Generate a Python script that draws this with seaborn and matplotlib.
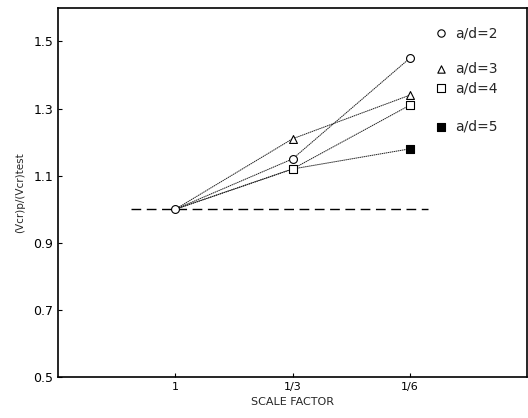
import matplotlib
matplotlib.use("Agg")
import matplotlib.pyplot as plt
import seaborn as sns
import pandas as pd

# data
scale_labels = ["1", "1/3", "1/6"]
series_names = ["a/d=2", "a/d=3", "a/d=4", "a/d=5"]
ad2 = [1.00, 1.15, 1.45]
ad3 = [1.00, 1.21, 1.34]
ad4 = [1.00, 1.12, 1.31]
ad5 = [1.00, 1.12, 1.18]
y_ticks = [0.5, 0.7, 0.9, 1.1, 1.3, 1.5]
ref_value = 1.0

values = [ad2, ad3, ad4, ad5]
rows = []
for name, vals in zip(series_names, values):
    for i, (lab, v) in enumerate(zip(scale_labels, vals)):
        rows.append({"series": name, "pos": i + 1, "scale": lab, "value": v})
df = pd.DataFrame(rows)

sns.set_style("ticks")
plt.rcParams["font.family"] = ["DejaVu Sans"]

fig = plt.figure(figsize=(5.28, 4.18), dpi=100)
ax = fig.add_axes([0.110, 0.098, 0.888, 0.883])

sns.lineplot(data=df, x="pos", y="value", units="series", estimator=None,
             color="#222222", lw=0.7, linestyle=(0, (1.5, 0.6)), ax=ax, legend=False)

# which markers are visible
show = {"a/d=2": [1, 2, 3], "a/d=3": [2, 3], "a/d=4": [2, 3], "a/d=5": [3]}
mk = {"a/d=2": "o", "a/d=3": "^", "a/d=4": "s", "a/d=5": "s"}
fc = {"a/d=2": "white", "a/d=3": "white", "a/d=4": "white", "a/d=5": "black"}
for name in series_names:
    sub = df[(df.series == name) & (df.pos.isin(show[name]))]
    sns.scatterplot(data=sub, x="pos", y="value", marker=mk[name], s=32,
                    facecolor=fc[name], edgecolor="black", linewidth=0.8,
                    ax=ax, zorder=5, legend=False)

# reference dashed line
ax.plot([0.62, 3.16], [ref_value, ref_value], color="black", lw=1.0,
        linestyle=(0, (7, 4)))

# legend as annotations
leg_y = [1.524, 1.419, 1.36, 1.246]
for name, yy in zip(series_names, leg_y):
    ax.scatter([3.27], [yy], marker=mk[name], s=28, facecolor=fc[name],
               edgecolor="black", linewidth=0.8, zorder=5)
    ax.text(3.39, yy, name, fontsize=10, va="center", ha="left")

ax.set_xlim(0, 4)
ax.set_ylim(0.5, 1.6)
ax.set_xticks([1, 2, 3])
ax.set_xticklabels(scale_labels, fontsize=8)
ax.set_yticks(y_ticks)
ax.set_yticklabels([f"{t:.1f}" for t in y_ticks], fontsize=9)
ax.set_xlabel("SCALE FACTOR", fontsize=8, labelpad=4)
ax.set_ylabel("(Vcr)p/(Vcr)test", fontsize=7.5, labelpad=6)
ax.tick_params(direction="in", length=3, width=0.8, colors="black")
for sp in ax.spines.values():
    sp.set_visible(True)
    sp.set_linewidth(1.2)
    sp.set_color("black")

fig.savefig("out.png", dpi=100)
